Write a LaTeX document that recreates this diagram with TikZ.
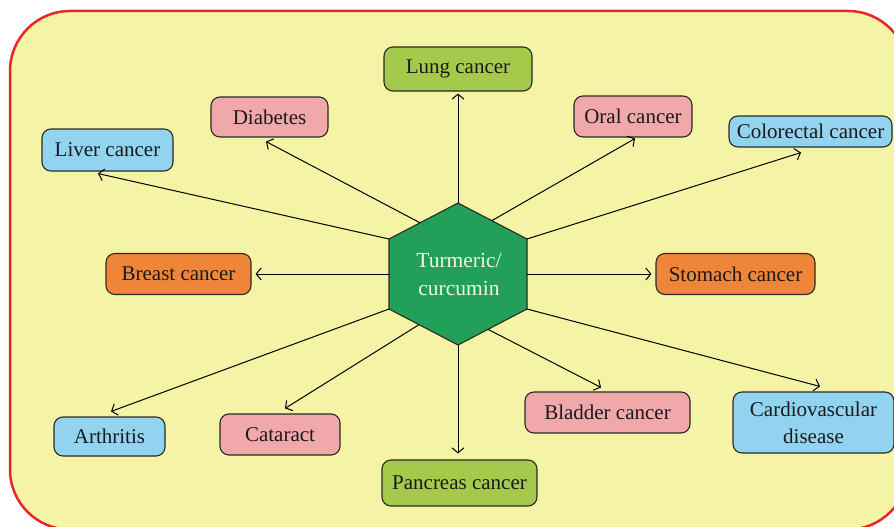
\documentclass[tikz,border=0pt]{standalone}
\usepackage{fontspec}
\setmainfont{Liberation Serif}
\usetikzlibrary{arrows.meta,calc}
\definecolor{bgyellow}{HTML}{F5F3A5}
\definecolor{bgred}{HTML}{E8262B}
\definecolor{cgreen}{HTML}{A5C94B}
\definecolor{cpink}{HTML}{F0A8AB}
\definecolor{cblue}{HTML}{92D3F0}
\definecolor{corange}{HTML}{EE8539}
\definecolor{hexgreen}{HTML}{22A05A}
\definecolor{boxline}{HTML}{2A2A22}
\definecolor{textdark}{HTML}{1A1A1A}
\definecolor{hextext}{HTML}{F4F4E4}
\begin{document}
\begin{tikzpicture}[x=1pt,y=-1pt,
  box/.style={draw=boxline, line width=1.1pt, rounded corners=9pt, inner sep=0pt,
    align=center, font=\fontsize{21}{27}\selectfont, text=textdark},
  arr/.style={-{Straight Barb[length=5pt,width=12pt]}, line width=1pt, draw=black}]
\useasboundingbox (0,0) rectangle (894,527);
\clip (0,0) rectangle (894,527);
\draw[bgred, fill=bgyellow, line width=2.5pt, rounded corners=60pt] (10,11) rectangle (908,529.5);

% hexagon
\coordinate (hT) at (458,203);
\coordinate (hTR) at (527,239);
\coordinate (hBR) at (527,309);
\coordinate (hB) at (458,345);
\coordinate (hBL) at (389,309);
\coordinate (hTL) at (389,239);
\coordinate (hL) at (389,274);
\coordinate (hR) at (527,274);
\draw[boxline, fill=hexgreen, line width=1.1pt] (hT) -- (hTR) -- (hBR) -- (hB) -- (hBL) -- (hTL) -- cycle;
\node[align=center, text=hextext, font=\fontsize{21.5}{28}\selectfont] (hex) at (459,274) {Turmeric/\\curcumin};

% boxes
\node[box, fill=cgreen, minimum width=148pt, minimum height=44pt] (lung) at (458,69) {Lung cancer};
\node[box, fill=cpink, minimum width=117pt, minimum height=40pt] (diab) at (269.5,117) {Diabetes};
\node[box, fill=cpink, minimum width=118pt, minimum height=41pt] (oral) at (633,116.5) {Oral cancer};
\node[box, fill=cblue, minimum width=131pt, minimum height=42pt] (liver) at (107.5,150) {Liver cancer};
\node[box, fill=cblue, minimum width=163pt, minimum height=31pt] (colo) at (810.5,131.5) {Colorectal cancer};
\node[box, fill=corange, minimum width=145pt, minimum height=41pt] (breast) at (178.5,274) {Breast cancer};
\node[box, fill=corange, minimum width=159pt, minimum height=41pt] (stomach) at (735.5,274) {Stomach cancer};
\node[box, fill=cblue, minimum width=111pt, minimum height=39pt] (arth) at (109.5,436.5) {Arthritis};
\node[box, fill=cpink, minimum width=120pt, minimum height=41pt] (cat) at (280,434.5) {Cataract};
\node[box, fill=cpink, minimum width=165pt, minimum height=41pt] (blad) at (607.5,412.5) {Bladder cancer};
\node[box, fill=cblue, minimum width=161pt, minimum height=61pt] (cardio) at (813.5,422.5) {Cardiovascular\\disease};
\node[box, fill=cgreen, minimum width=155pt, minimum height=46pt] (panc) at (459.5,483) {Pancreas cancer};

% connectors
\draw[arr] (hT) -- ([shift={(0,2)}]lung.south);
\draw[arr] ($(hTL)!0.45!(hT)$) -- ([shift={(-3.5,4)}]diab.south);
\draw[arr] (hTL) -- ([shift={(-9.5,2)}]liver.south);
\draw[arr] ($(hT)!0.49!(hTR)$) -- ([shift={(2,1)}]oral.south);
\draw[arr] (hTR) -- ([shift={(-9.5,5)}]colo.south);
\draw[arr] (hL) -- ([shift={(4,0)}]breast.east);
\draw[arr] (hR) -- ([shift={(-4,0)}]stomach.west);
\draw[arr] (hBL) -- ([shift={(1.5,-5)}]arth.north);
\draw[arr] ($(hBL)!0.435!(hB)$) -- ([shift={(5,-5)}]cat.north);
\draw[arr] (hB) -- ([shift={(-1.5,-6)}]panc.north);
\draw[arr] ($(hB)!0.435!(hBR)$) -- ([shift={(-6.5,-4)}]blad.north);
\draw[arr] (hBR) -- ([shift={(6.5,-5)}]cardio.north);
\end{tikzpicture}
\end{document}
